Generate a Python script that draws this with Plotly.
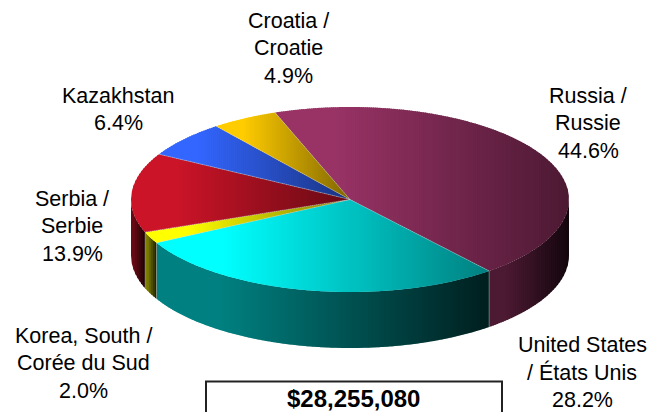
import math
import plotly.graph_objects as go

# Data (clockwise from the Russia slice)
names = ["Russia", "United States", "Korea", "Serbia", "Kazakhstan", "Croatia"]
shares = [44.6, 28.2, 2.0, 13.9, 6.4, 4.9]
label_lines = [
    ["Russia /", "Russie", "44.6%"],
    ["United States", "/ États Unis", "28.2%"],
    ["Korea, South /", "Corée du Sud", "2.0%"],
    ["Serbia /", "Serbie", "13.9%"],
    ["Kazakhstan", "6.4%"],
    ["Croatia /", "Croatie", "4.9%"],
]
base_colors = [(153, 51, 102), (0, 255, 255), (255, 255, 0), (204, 20, 40), (51, 102, 255), (255, 204, 0)]
total_text = "$28,255,080"

# Layout constants, in page pixels
W, H = 654, 412
CX, CY, RX, RY, DEPTH = 350, 199.5, 219, 92.5, 56
START_DEG = -20
STRIP = 2
PLATEAU = 0.2
label_pos = [(588, 95.5), (582, 344.5), (83.5, 335.5), (72, 198.5), (118, 95.5), (288, 20.5)]
LINE_H = 27.5
FONT = "Liberation Sans, Arial, sans-serif"
SEAM = "rgba(215,215,215,0.55)"

fig = go.Figure()


def mix(c, f):
    return "rgb(%d,%d,%d)" % tuple(round(v * f) for v in c)


def pt(deg):
    a = math.radians(deg)
    return CX + RX * math.sin(a), CY - RY * math.cos(a)


def clip(poly, x0, x1):
    def half(p, inside, cut):
        out = []
        for i in range(len(p)):
            a, b = p[i], p[(i + 1) % len(p)]
            ia, ib = inside(a), inside(b)
            if ia:
                out.append(a)
            if ia != ib:
                t = (cut - a[0]) / (b[0] - a[0])
                out.append((cut, a[1] + t * (b[1] - a[1])))
        return out
    r = half(poly, lambda q: q[0] >= x0, x0)
    return half(r, lambda q: q[0] <= x1, x1) if r else r


def add_poly(poly, color):
    fig.add_trace(go.Scatter(x=[p[0] for p in poly] + [poly[0][0]], y=[p[1] for p in poly] + [poly[0][1]],
                             mode="lines", fill="toself", fillcolor=color,
                             line=dict(width=0), hoverinfo="skip", showlegend=False))


def add_seam(p, q):
    fig.add_trace(go.Scatter(x=[p[0], q[0]], y=[p[1], q[1]], mode="lines", line=dict(color=SEAM, width=0.7),
                             hoverinfo="skip", showlegend=False))


def shade(poly, c, f_hi, f_lo):
    xmin, xmax = min(p[0] for p in poly), max(p[0] for p in poly)
    x = xmin
    while x < xmax:
        band = clip(poly, x, x + STRIP + 1)
        if len(band) >= 3:
            t = min((x + STRIP / 2 - xmin) / max(xmax - xmin, 1), 1)
            t = max(t - PLATEAU, 0) / (1 - PLATEAU)
            add_poly(band, mix(c, f_hi + (f_lo - f_hi) * t))
        x += STRIP


# running angles
angles = []
a = START_DEG
for s in shares:
    angles.append((a, a + s * 3.6))
    a += s * 3.6

# side walls: only the front half of the rim shows
for (a0, a1), c in zip(angles, base_colors):
    lo, hi = max(a0, 90), min(a1, 270)
    if lo >= hi:
        continue
    n = max(int((hi - lo) * 2), 2)
    arc = [pt(lo + (hi - lo) * i / n) for i in range(n + 1)]
    wall = arc + [(p[0], p[1] + DEPTH) for p in reversed(arc)]
    shade(wall, c, 0.5, 0.12)

# top faces
for (a0, a1), c in zip(angles, base_colors):
    n = max(int(a1 - a0) * 2, 4)
    wedge = [(CX, CY)] + [pt(a0 + (a1 - a0) * i / n) for i in range(n + 1)]
    shade(wedge, c, 1.0, 0.5)

# thin light seams where slices meet
for a0, a1 in angles:
    add_seam((CX, CY), pt(a0))
    if 90 < a0 < 270:
        p = pt(a0)
        add_seam(p, (p[0], p[1] + DEPTH))

# labels
for lines, (lx, ly) in zip(label_lines, label_pos):
    for i, line in enumerate(lines):
        fig.add_annotation(x=lx, y=ly + i * LINE_H, text=line, showarrow=False, xref="x", yref="y",
                           xanchor="center", yanchor="middle",
                           font=dict(family=FONT, size=21.5, color="#000000"))

# total box
fig.add_shape(type="rect", x0=206, x1=502, y0=381.5, y1=430, line=dict(color="#222222", width=2), fillcolor="white")
fig.add_annotation(x=353, y=398, text="<b>%s</b>" % total_text, showarrow=False, xanchor="center", yanchor="middle",
                   font=dict(family=FONT, size=24, color="#000000"))

fig.update_layout(width=W, height=H, margin=dict(l=0, r=0, t=0, b=0), paper_bgcolor="white", plot_bgcolor="white",
                  showlegend=False,
                  xaxis=dict(range=[0, W], visible=False, fixedrange=True),
                  yaxis=dict(range=[H, 0], visible=False, fixedrange=True))
fig.write_html("out.html", config={"displayModeBar": False},
               post_script="document.body.style.margin='0';document.body.style.overflow='hidden';")
